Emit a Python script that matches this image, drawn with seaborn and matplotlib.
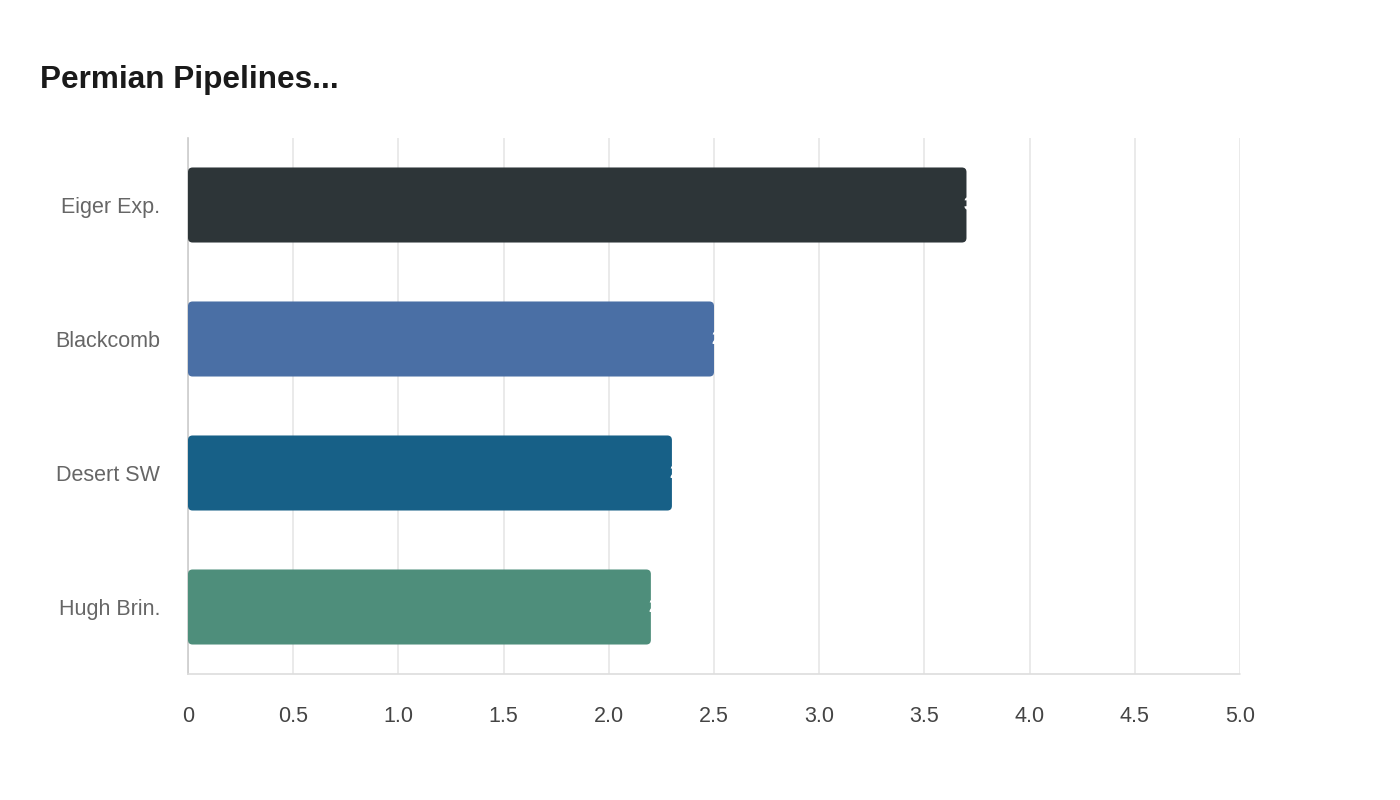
import matplotlib
matplotlib.use('Agg')
import matplotlib.pyplot as plt
from matplotlib.patches import FancyBboxPatch
import pandas as pd
import seaborn as sns

# 数据
pipelines = ['Eiger Exp.', 'Blackcomb', 'Desert SW', 'Hugh Brin.']
capacity = [3.7, 2.5, 2.3, 2.2]
bar_colors = ['#2d3538', '#4a6fa5', '#176087', '#4e8e7b']
x_ticks = [0, 0.5, 1.0, 1.5, 2.0, 2.5, 3.0, 3.5, 4.0, 4.5, 5.0]
x_tick_labels = ['0', '0.5', '1.0', '1.5', '2.0', '2.5', '3.0', '3.5', '4.0', '4.5', '5.0']

sns.set_theme(style='white')
plt.rcParams['font.family'] = ['Liberation Sans', 'DejaVu Sans']

df = pd.DataFrame({'pipeline': pipelines, 'capacity': capacity})

fig = plt.figure(figsize=(14, 8), dpi=100)
ax = fig.add_axes([188 / 1400, 1 - 674 / 800, (1240 - 188) / 1400, (674 - 138) / 800])

sns.barplot(data=df, y='pipeline', x='capacity', hue='pipeline', palette=bar_colors,
            saturation=1, legend=False, width=0.56, ax=ax, zorder=3)

# 圆角柱子
for p in list(ax.patches):
    x0, y0, w, h = p.get_x(), p.get_y(), p.get_width(), p.get_height()
    fc = p.get_facecolor()
    p.remove()
    fb = FancyBboxPatch((x0, y0), w, h, boxstyle='round,pad=0,rounding_size=0.022',
                        mutation_aspect=1.55, facecolor=fc, edgecolor='none', zorder=3)
    ax.add_patch(fb)

# 被裁掉的白色数值标签
for i, v in enumerate(capacity):
    ax.annotate(f'{v}', xy=(v, i), xytext=(-2, 0), textcoords='offset points',
                ha='left', va='center', color='white', fontsize=13, fontweight='bold', zorder=4)

ax.set_xlim(0, 5.0)
ax.set_ylim(3.5, -0.5)
ax.set_xticks(x_ticks)
ax.set_xticklabels(x_tick_labels)
ax.set_xlabel('')
ax.set_ylabel('')
ax.grid(axis='x', color='#e6e6e6', linewidth=1.2, zorder=0)
ax.grid(axis='y', visible=False)

for s in ['top', 'right']:
    ax.spines[s].set_visible(False)
ax.spines['left'].set_color('#cccccc')
ax.spines['left'].set_linewidth(1.2)
ax.spines['bottom'].set_color('#dddddd')
ax.spines['bottom'].set_linestyle((0, (1, 1)))
ax.spines['bottom'].set_linewidth(1.2)

ax.tick_params(axis='x', length=10, width=1.2, color='#e6e6e6', labelsize=15.5,
               labelcolor='#444444', pad=13)
ax.tick_params(axis='y', length=0, labelsize=15.5, labelcolor='#666666', pad=20)

fig.text(40 / 1400, 1 - 80 / 800, 'Permian Pipelines...', fontsize=22.7, fontweight='bold',
         color='#1a1a1a', ha='left', va='center')

fig.savefig('out.png', dpi=100, facecolor='white')
